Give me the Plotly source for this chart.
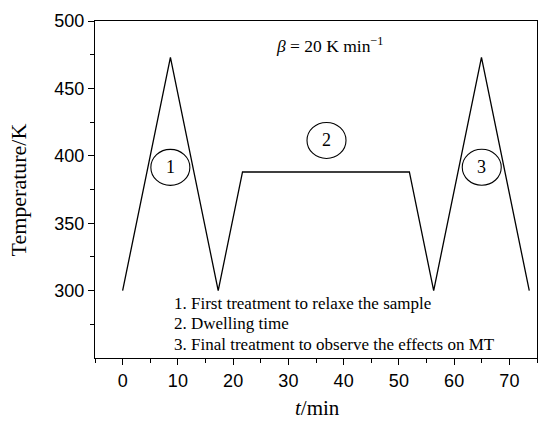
import plotly.graph_objects as go

# Temperature program data
time_min = [0, 8.65, 17.3, 21.7, 51.9, 56.3, 64.95, 73.6]
temperature_K = [300, 473, 300, 388, 388, 300, 473, 300]

stage_labels = ["1", "2", "3"]
stage_x = [8.64, 36.9, 65.0]
stage_y = [391.4, 411.4, 391.5]

legend_lines = [
    "1. First treatment to relaxe the sample",
    "2. Dwelling time",
    "3. Final treatment to observe the effects on MT",
]
legend_y = [290.6, 275.3, 259.7]

SERIF = "Liberation Serif, Times New Roman, serif"
SANS = "Liberation Sans, Arial, sans-serif"

fig = go.Figure()
fig.add_trace(go.Scatter(x=time_min, y=temperature_K, mode="lines",
                         line=dict(color="black", width=1.3),
                         showlegend=False, hoverinfo="skip"))

annotations = []
shapes = []
for lab, cx, cy in zip(stage_labels, stage_x, stage_y):
    shapes.append(dict(type="circle", xref="x", yref="y",
                       xsizemode="pixel", ysizemode="pixel",
                       xanchor=cx, yanchor=cy,
                       x0=-19.5, x1=19.5, y0=-18, y1=18,
                       line=dict(color="black", width=1.1)))
    annotations.append(dict(x=cx, y=cy, xref="x", yref="y", text=lab,
                            showarrow=False, xanchor="center", yanchor="middle",
                            font=dict(family=SERIF, size=18, color="black")))

for txt, ly in zip(legend_lines, legend_y):
    annotations.append(dict(x=8.86, y=ly, xref="x", yref="y", text=txt,
                            showarrow=False, xanchor="left", yanchor="middle",
                            font=dict(family=SERIF, size=17, color="black")))

annotations.append(dict(x=37.5, y=482.2, xref="x", yref="y",
                        text="<i>β</i> = 20 K min<sup>−1</sup>",
                        showarrow=False, xanchor="center", yanchor="middle",
                        font=dict(family=SERIF, size=17.5, color="black")))

annotations.append(dict(x=0.503, y=-0.148, xref="paper", yref="paper",
                        text="<i>t</i>/min", showarrow=False,
                        xanchor="center", yanchor="middle",
                        font=dict(family=SERIF, size=21, color="black")))
annotations.append(dict(x=-0.172, y=0.5, xref="paper", yref="paper",
                        text="Temperature/K", showarrow=False, textangle=-90,
                        xanchor="center", yanchor="middle",
                        font=dict(family=SERIF, size=22, color="black")))

axis_common = dict(showgrid=False, zeroline=False, showline=True,
                   linecolor="black", linewidth=1.3, mirror=True,
                   ticks="outside", ticklen=6, tickwidth=1.2, tickcolor="black",
                   tickfont=dict(family=SANS, size=18, color="black"))

fig.update_layout(
    width=538, height=421,
    margin=dict(l=95, r=1, t=21, b=63),
    plot_bgcolor="white", paper_bgcolor="white",
    xaxis=dict(range=[-5, 75], tickvals=[0, 10, 20, 30, 40, 50, 60, 70],
               minor=dict(tickvals=[-5, 5, 15, 25, 35, 45, 55, 65, 75], ticks="outside",
                          ticklen=4, tickwidth=1.2, tickcolor="black"),
               **axis_common),
    yaxis=dict(range=[250, 500], tickvals=[300, 350, 400, 450, 500],
               minor=dict(tickvals=[275, 325, 375, 425, 475], ticks="outside",
                          ticklen=4, tickwidth=1.2, tickcolor="black"),
               **axis_common),
    annotations=annotations,
    shapes=shapes,
)

fig.write_html("out.html")
